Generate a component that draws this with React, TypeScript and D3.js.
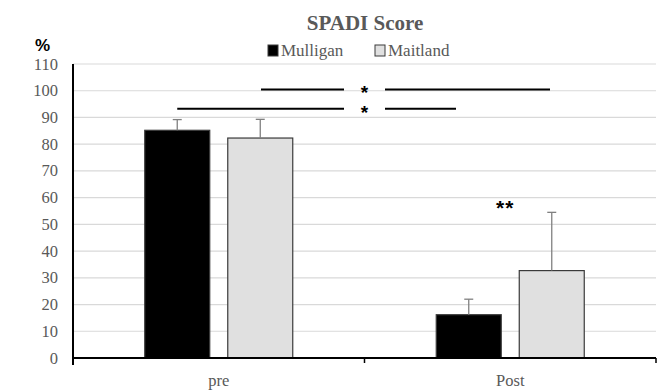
import React from "react";
import * as d3 from "d3";

const categories = ["pre", "Post"];
const seriesNames = ["Mulligan", "Maitland"];
const mulliganMeans = [85.2, 16.2];
const mulliganSD = [4.0, 5.8];
const maitlandMeans = [82.3, 32.7];
const maitlandSD = [7.0, 21.8];
const yTicks = [0, 10, 20, 30, 40, 50, 60, 70, 80, 90, 100, 110];
const sigLevels = [100.5, 93.3];
const sigLabels = ["*", "*", "**"];

export default function App() {
  const W = 665, H = 390;
  const left = 73, right = 656, top = 64, bottom = 358;
  const x = d3.scaleBand<string>().domain(categories).range([left, right]);
  const inner = d3
    .scaleBand<string>()
    .domain(seriesNames)
    .range([71.75, 219.75])
    .paddingInner(0.217);
  const y = d3.scaleLinear().domain([0, 110]).range([bottom, top]);

  const series = [
    { name: "Mulligan", means: mulliganMeans, sd: mulliganSD, fill: "#000000", stroke: "#3a3a3a" },
    { name: "Maitland", means: maitlandMeans, sd: maitlandSD, fill: "#e0e0e0", stroke: "#3a3a3a" },
  ];

  const serif = "Liberation Serif, Times New Roman, DejaVu Serif, serif";
  const sans = "Liberation Sans, Arial, sans-serif";
  const gray = "#595959";
  const bw = inner.bandwidth();

  const barX = (ci: number, si: number) => (x(categories[ci]) as number) + (inner(seriesNames[si]) as number);
  const preM = barX(0, 0) + bw / 2;
  const postM = barX(1, 0) + bw / 2;
  const postMait = barX(1, 1) + bw / 2;
  const starX = x.step() + left;

  return (
    <svg width={W} height={H} style={{ display: "block", position: "absolute", left: 0, top: 0 }}>
      <rect width={W} height={H} fill="#ffffff" />
      {yTicks.map((t) => (
        <line key={t} x1={left} x2={right} y1={y(t)} y2={y(t)} stroke="#d9d9d9" strokeWidth={1.2} />
      ))}
      {yTicks.map((t) => (
        <text key={"l" + t} x={58} y={y(t) + 5.5} textAnchor="end" style={{ fontFamily: serif, fontSize: 16.5 }} fill={gray}>
          {t}
        </text>
      ))}
      {series.map((s, si) =>
        categories.map((c, ci) => (
          <rect
            key={s.name + c}
            x={barX(ci, si)}
            y={y(s.means[ci])}
            width={bw}
            height={y(0) - y(s.means[ci])}
            fill={s.fill}
            stroke={s.stroke}
            strokeWidth={1.2}
          />
        ))
      )}
      {series.map((s, si) =>
        categories.map((c, ci) => {
          const cx = barX(ci, si) + bw / 2;
          const yt = y(s.means[ci] + s.sd[ci]);
          return (
            <g key={"e" + s.name + c} stroke="#808080" strokeWidth={1.3}>
              <line x1={cx} x2={cx} y1={y(s.means[ci])} y2={yt} />
              <line x1={cx - 4.5} x2={cx + 4.5} y1={yt} y2={yt} />
            </g>
          );
        })
      )}
      <line x1={left} x2={left} y1={top} y2={bottom + 7} stroke="#000" strokeWidth={2} />
      <line x1={left} x2={right} y1={bottom} y2={bottom} stroke="#000" strokeWidth={2} />
      {[left + x.step(), right].map((tx, i) => (
        <line key={"t" + i} x1={tx} x2={tx} y1={bottom} y2={bottom + 5} stroke="#000" strokeWidth={1.5} />
      ))}
      {categories.map((c) => (
        <text
          key={c}
          x={(x(c) as number) + x.bandwidth() / 2}
          y={386}
          textAnchor="middle"
          style={{ fontFamily: serif, fontSize: 16.5 }}
          fill={gray}
        >
          {c}
        </text>
      ))}
      <text x={365} y={30} textAnchor="middle" style={{ fontFamily: serif, fontWeight: "bold", fontSize: 21 }} fill={gray}>
        SPADI Score
      </text>
      <rect x={268} y={45} width={10} height={11} fill="#000" stroke="#3a3a3a" />
      <text x={281} y={56} style={{ fontFamily: serif, fontSize: 17 }} fill={gray}>
        {seriesNames[0]}
      </text>
      <rect x={375} y={45} width={10} height={11} fill="#e0e0e0" stroke="#3a3a3a" />
      <text x={388} y={56} style={{ fontFamily: serif, fontSize: 17 }} fill={gray}>
        {seriesNames[1]}
      </text>
      <text x={35} y={51} style={{ fontFamily: sans, fontWeight: "bold", fontSize: 17 }} fill="#000">
        %
      </text>
      <g stroke="#000" strokeWidth={2}>
        <line x1={261} x2={344} y1={y(sigLevels[0])} y2={y(sigLevels[0])} />
        <line x1={385} x2={550} y1={y(sigLevels[0])} y2={y(sigLevels[0])} />
        <line x1={preM} x2={344} y1={y(sigLevels[1])} y2={y(sigLevels[1])} />
        <line x1={385} x2={456} y1={y(sigLevels[1])} y2={y(sigLevels[1])} />
      </g>
      {sigLevels.map((lv, i) => (
        <text key={"s" + i} x={starX} y={y(lv) + 10} textAnchor="middle" style={{ fontFamily: sans, fontWeight: "bold", fontSize: 19 }} fill="#000">
          {sigLabels[i]}
        </text>
      ))}
      <text x={(postM + postMait) / 2 - 5} y={y(60) + 17} textAnchor="middle" style={{ fontFamily: sans, fontWeight: "bold", fontSize: 21, letterSpacing: 1 }} fill="#000">
        {sigLabels[2]}
      </text>
    </svg>
  );
}
